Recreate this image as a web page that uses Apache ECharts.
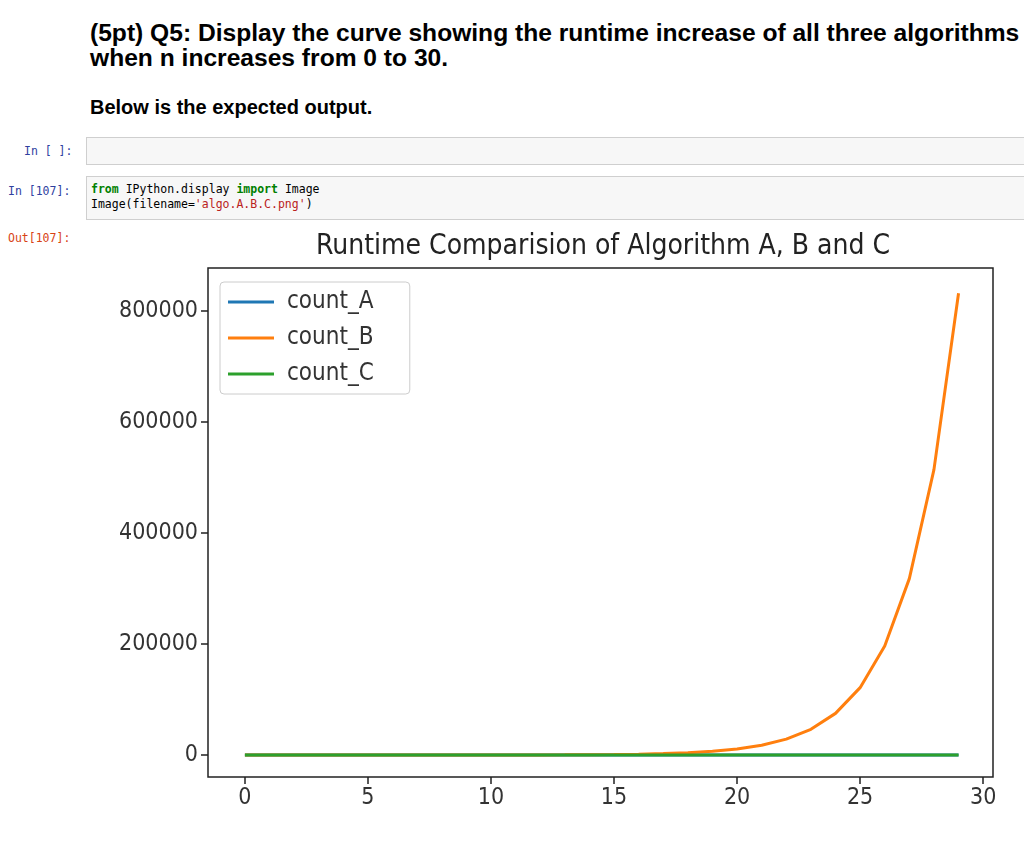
<!DOCTYPE html>
<html><head><meta charset="utf-8">
<script src="https://cdn.jsdelivr.net/npm/echarts@6/dist/echarts.min.js"></script>
<style>
body{margin:0;width:1024px;height:842px;background:#fff;position:relative;overflow:hidden;font-family:"Liberation Sans",Arial,sans-serif}
#c{position:absolute;left:0;top:0;width:1024px;height:842px}
.t{position:absolute;font-weight:bold;color:#000}
.p{position:absolute;font-family:"DejaVu Sans Mono",monospace;font-size:11.5px}
.cell{position:absolute;left:86px;right:-2px;background:#f7f7f7;border:1px solid #cfcfcf}
</style></head><body>
<div class="t" style="left:90px;top:20px;font-size:24.6px;line-height:25px;white-space:nowrap">(5pt) Q5: Display the curve showing the runtime increase of all three algorithms<br>when n increases from 0 to 30.</div>
<div class="t" style="left:90px;top:96px;font-size:20px">Below is the expected output.</div>
<div class="p" style="left:24px;top:144px;color:#303F9F">In [ ]:</div>
<div class="cell" style="top:137px;height:26px"></div>
<div class="p" style="left:8px;top:184px;color:#303F9F">In [107]:</div>
<div class="cell" style="top:176px;height:42px"></div>
<div class="p" style="left:91px;top:182px;line-height:15px;color:#000"><b style="color:#008000">from</b> IPython.display <b style="color:#008000">import</b> Image<br>Image(filename=<span style="color:#BA2121">'algo.A.B.C.png'</span>)</div>
<div class="p" style="left:8px;top:231px;color:#D84315">Out[107]:</div>
<div id="c"></div>
<script>
const n=[0,1,2,3,4,5,6,7,8,9,10,11,12,13,14,15,16,17,18,19,20,21,22,23,24,25,26,27,28,29];
const countA=[1,2,3,4,5,6,7,8,9,10,11,12,13,14,15,16,17,18,19,20,21,22,23,24,25,26,27,28,29,30];
const countB=[1,1,2,3,5,8,13,21,34,55,89,144,233,377,610,987,1597,2584,4181,6765,10946,17711,28657,46368,75025,121393,196418,317811,514229,832040];
const countC=[1,2,3,4,5,6,7,8,9,10,11,12,13,14,15,16,17,18,19,20,21,22,23,24,25,26,27,28,29,30];
const xTicks=[0,5,10,15,20,25,30];
const yTicks=[0,200000,400000,600000,800000];
const font='"DejaVu Sans Condensed","Liberation Sans",sans-serif';
const mk=(name,arr,color)=>({name,type:'line',data:n.map((x,i)=>[x,arr[i]]),showSymbol:false,lineStyle:{width:3,color},itemStyle:{color},z:name==='count_C'?5:3});
const ch=echarts.init(document.getElementById('c'));
ch.setOption({animation:false,
title:{text:'Runtime Comparision of Algorithm A, B and C',left:598,top:228,textAlign:'center',textStyle:{fontFamily:font,fontSize:28,fontWeight:'normal',color:'#222'}},
grid:{left:208,top:268,width:785,height:509,show:true,borderColor:'#222',borderWidth:1.5},
legend:{orient:'vertical',left:220,top:282,padding:[8,36,8,8],itemGap:12,itemWidth:46,itemHeight:3,
 borderColor:'#ccc',borderWidth:1,borderRadius:4,backgroundColor:'#fff',icon:'rect',
 textStyle:{fontFamily:font,fontSize:24,color:'#333',padding:[0,0,0,8]},data:['count_A','count_B','count_C']},
xAxis:{type:'value',min:-1.5,max:30.4,splitLine:{show:false},axisLine:{show:false,onZero:false},
 axisTick:{show:true,customValues:xTicks,length:7,lineStyle:{color:'#222',width:1.5}},
 axisLabel:{customValues:xTicks,fontFamily:font,fontSize:23,color:'#333',margin:10}},
yAxis:{type:'value',min:-39600,max:877500,splitLine:{show:false},axisLine:{show:false,onZero:false},
 axisTick:{show:true,customValues:yTicks,length:7,lineStyle:{color:'#222',width:1.5}},
 axisLabel:{customValues:yTicks,formatter:v=>String(v),fontFamily:font,fontSize:23,color:'#333',margin:10}},
series:[mk('count_A',countA,'#1f77b4'),mk('count_B',countB,'#ff7f0e'),mk('count_C',countC,'#2ca02c')]
});
</script></body></html>
